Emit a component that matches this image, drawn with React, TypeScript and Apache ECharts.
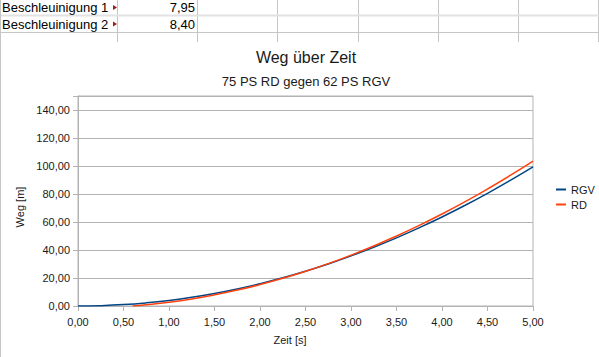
import React, { useEffect, useRef } from "react";
import * as echarts from "echarts";

const cellLabels = ["Beschleuinigung 1", "Beschleuinigung 2"];
const cellValues = ["7,95", "8,40"];

const chartTitle = "Weg über Zeit";
const chartSubtitle = "75 PS RD gegen 62 PS RGV";
const xName = "Zeit [s]";
const yName = "Weg [m]";

const seriesNames = ["RGV", "RD"];
const seriesColors = ["#004586", "#ff420e"];

const zeitRGV = [0, 0.25, 0.5, 0.75, 1.0, 1.25, 1.5, 1.75, 2.0, 2.25, 2.5, 2.75, 3.0, 3.25, 3.5, 3.75, 4.0, 4.25, 4.5, 4.75, 5.0];
const wegRGV = [0, 0.25, 0.99, 2.24, 3.98, 6.21, 8.94, 12.17, 15.9, 20.12, 24.84, 30.06, 35.78, 41.99, 48.69, 55.9, 63.6, 71.8, 80.49, 89.69, 99.38];

const zeitRD = [0.6, 0.75, 1.0, 1.25, 1.5, 1.75, 2.0, 2.25, 2.5, 2.75, 3.0, 3.25, 3.5, 3.75, 4.0, 4.25, 4.5, 4.75, 5.0];
const wegRD = [0, 0.86, 2.7, 5.06, 7.95, 11.36, 15.3, 19.76, 24.75, 30.26, 36.3, 42.86, 49.95, 57.56, 65.7, 74.36, 83.55, 93.26, 103.5];

const FONT = "'Liberation Sans', Arial, sans-serif";
const GRID_COLOR = "#b3b3b3";
const CELL_LINE = "#c6c6c6";
const TEXT = "#1a1a1a";

const fmt = (v: number) => v.toFixed(2).replace(".", ",");

export default function App() {
  const ref = useRef<HTMLDivElement>(null);

  useEffect(() => {
    if (!ref.current) return;
    const chart = echarts.init(ref.current, null, { renderer: "svg" });

    const colX = [117.5, 197.5, 277.5, 358.5, 438.5, 518.5, 598.5];
    const graphics: any[] = [];
    colX.forEach((x) => {
      graphics.push({
        type: "line",
        shape: { x1: x, y1: 0, x2: x, y2: 42 },
        style: { stroke: CELL_LINE, lineWidth: 1 },
        silent: true,
      });
    });
    graphics.push({
      type: "line",
      shape: { x1: 0, y1: 15.5, x2: 599, y2: 15.5 },
      style: { stroke: "#e2e2e2", lineWidth: 2 },
    });
    graphics.push({
      type: "line",
      shape: { x1: 0, y1: 32.5, x2: 599, y2: 32.5 },
      style: { stroke: CELL_LINE, lineWidth: 1 },
    });
    graphics.push({
      type: "line",
      shape: { x1: 0.5, y1: 0, x2: 0.5, y2: 357 },
      style: { stroke: CELL_LINE, lineWidth: 1 },
    });
    const rowY = [7.5, 24];
    cellLabels.forEach((t, i) => {
      graphics.push({
        type: "text",
        x: 2,
        y: rowY[i],
        style: { text: t, fill: "#000", font: `13px ${FONT}`, textAlign: "left", textVerticalAlign: "middle" },
      });
      graphics.push({
        type: "polygon",
        shape: { points: [[113, rowY[i] - 2.5], [117, rowY[i]], [113, rowY[i] + 2.5]] },
        style: { fill: "#9e1c1c" },
      });
      graphics.push({
        type: "text",
        x: 195,
        y: rowY[i],
        style: { text: cellValues[i], fill: "#000", font: `13px ${FONT}`, textAlign: "right", textVerticalAlign: "middle" },
      });
    });
    graphics.push({
      type: "text",
      x: 306,
      y: 57,
      style: { text: chartTitle, fill: TEXT, font: `16px ${FONT}`, textAlign: "center", textVerticalAlign: "middle" },
    });
    graphics.push({
      type: "text",
      x: 306,
      y: 81,
      style: { text: chartSubtitle, fill: TEXT, font: `13px ${FONT}`, textAlign: "center", textVerticalAlign: "middle" },
    });
    graphics.push({
      type: "text",
      x: 290,
      y: 340,
      style: { text: xName, fill: TEXT, font: `11px ${FONT}`, textAlign: "center", textVerticalAlign: "middle" },
    });
    graphics.push({
      type: "text",
      x: 19.5,
      y: 207,
      rotation: Math.PI / 2,
      style: { text: yName, fill: TEXT, font: `11px ${FONT}`, textAlign: "center", textVerticalAlign: "middle" },
    });

    chart.setOption({
      animation: false,
      backgroundColor: "#ffffff",
      textStyle: { fontFamily: FONT },
      grid: {
        left: 78,
        right: 66,
        top: 96,
        bottom: 51,
        show: true,
        borderColor: GRID_COLOR,
        borderWidth: 1,
        backgroundColor: "transparent",
      },
      legend: {
        orient: "vertical",
        left: 556,
        top: 184,
        padding: 0,
        itemWidth: 10,
        itemHeight: 2,
        itemGap: 4,
        icon: "rect",
        textStyle: { fontSize: 11, color: TEXT, fontFamily: FONT },
        data: seriesNames,
      },
      xAxis: {
        type: "value",
        min: 0,
        max: 5,
        interval: 0.5,
        axisLine: { show: true, lineStyle: { color: GRID_COLOR } },
        axisTick: { show: true, length: 5, lineStyle: { color: GRID_COLOR } },
        splitLine: { show: false },
        axisLabel: { formatter: (v: number) => fmt(v), fontSize: 11, color: TEXT, margin: 10, fontFamily: FONT },
      },
      yAxis: {
        type: "value",
        min: 0,
        max: 150,
        interval: 20,
        axisLine: { show: true, lineStyle: { color: GRID_COLOR } },
        axisTick: { show: true, length: 5, lineStyle: { color: GRID_COLOR } },
        splitLine: { show: true, lineStyle: { color: GRID_COLOR } },
        axisLabel: {
          formatter: (v: number) => (v % 20 === 0 ? fmt(v) : ""),
          fontSize: 11,
          color: TEXT,
          margin: 8,
          fontFamily: FONT,
        },
      },
      series: [
        {
          name: seriesNames[0],
          type: "line",
          smooth: true,
          symbol: "none",
          color: seriesColors[0],
          lineStyle: { width: 1.5, color: seriesColors[0] },
          data: zeitRGV.map((t, i) => [t, wegRGV[i]]),
        },
        {
          name: seriesNames[1],
          type: "line",
          smooth: true,
          symbol: "none",
          color: seriesColors[1],
          lineStyle: { width: 1.5, color: seriesColors[1] },
          data: zeitRD.map((t, i) => [t, wegRD[i]]),
        },
      ],
      graphic: graphics,
    });

    return () => chart.dispose();
  }, []);

  return (
    <div
      ref={ref}
      style={{ position: "fixed", left: 0, top: 0, width: 599, height: 357, background: "#fff" }}
    />
  );
}
